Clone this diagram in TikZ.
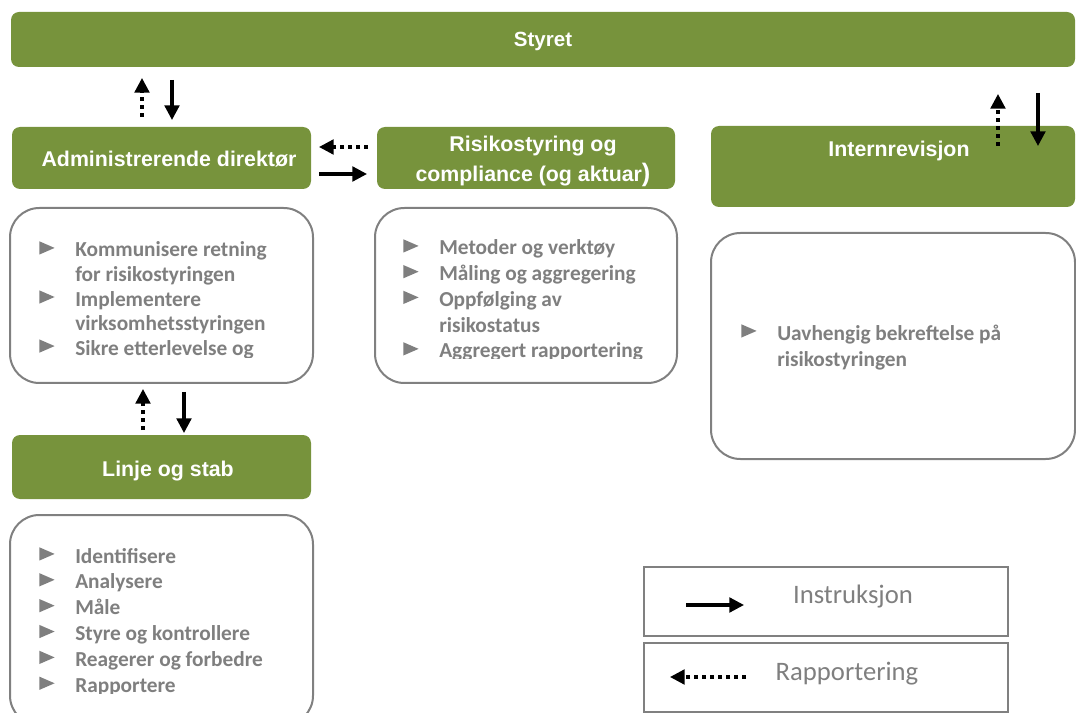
\documentclass[tikz,border=0pt]{standalone}
\usepackage{fontspec}
\setmainfont{Liberation Sans}
\newfontfamily\calfont{Carlito}
\usetikzlibrary{arrows.meta,fit}
\definecolor{olive}{RGB}{119,147,60}
\definecolor{txtgray}{RGB}{127,127,127}
\definecolor{boxgray}{RGB}{128,128,128}
\newcommand\bulsym{\smash{\tikz[x=1pt,y=1pt,baseline=0pt]\fill[txtgray] (0,1.8) -- (11.5,6.8) -- (0,11.8) -- cycle;}}
\newcommand\bulitem[1]{\hbox{\makebox[27pt][l]{\bulsym}#1}}
\newcommand\bulcont[1]{\hbox{\hspace*{27pt}#1}}
\begin{document}
\begin{tikzpicture}[x=0.75pt,y=-0.75pt,
  greenbox/.style={fill=olive, draw=none, rounded corners=6pt, inner sep=0pt},
  listbox/.style={draw=boxgray, line width=1.5pt, fill=white, rounded corners=22pt, inner sep=0pt},
  legbox/.style={draw=boxgray, line width=1.1pt, inner sep=0pt},
  head/.style={text=white, font=\fontsize{16}{18}\selectfont\bfseries, inner sep=0pt, anchor=base},
  listtext/.style={text=txtgray, font=\calfont\fontsize{16}{18.4}\selectfont\bfseries, inner sep=0pt, anchor=base west},
  legtext/.style={text=txtgray, font=\calfont\fontsize{20}{24}\selectfont, inner sep=0pt, anchor=base},
  instr/.style={-{Triangle[length=11pt,width=11pt]}, line width=2.4pt},
  rapp/.style={-{Triangle[length=11pt,width=11pt]}, line width=2.4pt, dash pattern=on 3pt off 3pt},
]
\useasboundingbox (0,0) rectangle (1076,713);
\clip (0,0) rectangle (1076,713);

% green boxes
\node[greenbox, fit={(11,12) (1075,67)}] (styret) {};
\node[greenbox, fit={(12,127) (311,189)}] (adm) {};
\node[greenbox, fit={(377,127) (675,189)}] (risk) {};
\node[greenbox, fit={(711,126) (1075,207)}] (intern) {};
\node[greenbox, fit={(12,435) (311,499)}] (linje) {};

\node[head, font=\fontsize{15.4}{18}\selectfont\bfseries] (styretT) at (543,47) {Styret};
\node[head] (admT) at (169,167) {Administrerende direktør};
\node[head] (riskT1) at (533,152) {Risikostyring og};
\node[head] (riskT2) at (533,182) {compliance (og aktuar{\fontsize{19}{19}\selectfont)}};
\node[head] (internT) at (899,157) {Internrevisjon};
\node[head] (linjeT) at (168,476) {Linje og stab};

% list boxes
\node[listbox, fit={(10,208) (313,383)}] (box1) {};
\node[listbox, fit={(375,208) (677,383)}] (box2) {};
\node[listbox, fit={(711,233) (1075,459)}] (box3) {};
\node[listbox, fit={(10,515) (313,725)}] (box4) {};

\begin{scope}
\clip (0,200) rectangle (1076,358);
\node[listtext] (box1T) at (39,257) {\vtop{\lineskiplimit=-30pt\baselineskip=18.4pt
  \bulitem{Kommunisere retning}\bulcont{for risikostyringen}\bulitem{Implementere}\bulcont{virksomhetsstyringen}\bulitem{Sikre etterlevelse og}}};
\end{scope}
\begin{scope}
\clip (0,200) rectangle (1076,359);
\node[listtext] (box2T) at (403,255) {\vtop{\lineskiplimit=-30pt\baselineskip=19.3pt
  \bulitem{Metoder og verktøy}\bulitem{Måling og aggregering}\bulitem{Oppfølging av}\bulcont{risikostatus}\bulitem{Aggregert rapportering}}};
\end{scope}
\node[listtext] (box3T) at (741,340) {\vtop{\lineskiplimit=-30pt\baselineskip=20pt
  \bulitem{Uavhengig bekreftelse på}\bulcont{risikostyringen}}};
\begin{scope}
\clip (0,500) rectangle (1076,693);
\node[listtext] (box4T) at (39,563) {\vtop{\lineskiplimit=-30pt\baselineskip=19.4pt
  \bulitem{Identifisere}\bulitem{Analysere}\bulitem{Måle}\bulitem{Styre og kontrollere}\bulitem{Reagerer og forbedre}\bulitem{Rapportere}}};
\end{scope}

% arrows
\coordinate (a1s) at (142,117); \coordinate (a1e) at (142,78);
\coordinate (a2s) at (172,80);  \coordinate (a2e) at (172,120);
\coordinate (a3s) at (368,147); \coordinate (a3e) at (319,147);
\coordinate (a4s) at (319,174); \coordinate (a4e) at (367,174);
\coordinate (a5s) at (998,146); \coordinate (a5e) at (998,94);
\coordinate (a6s) at (1038,93); \coordinate (a6e) at (1038,146);
\coordinate (a7s) at (143,430); \coordinate (a7e) at (143,389);
\coordinate (a8s) at (184,392); \coordinate (a8e) at (184,433);
\draw[rapp] (a1s) -- (a1e);
\draw[instr] (a2s) -- (a2e);
\draw[rapp] (a3s) -- (a3e);
\draw[instr] (a4s) -- (a4e);
\draw[rapp] (a5s) -- (a5e);
\draw[instr] (a6s) -- (a6e);
\draw[rapp] (a7s) -- (a7e);
\draw[instr] (a8s) -- (a8e);

% legend
\node[legbox, fit={(644,567) (1008,636)}] (leg1) {};
\node[legbox, fit={(644,643) (1008,712)}] (leg2) {};
\node[legtext] (leg1T) at (853,603) {Instruksjon};
\node[legtext] (leg2T) at (847,680) {Rapportering};
\coordinate (l1s) at (686,605); \coordinate (l1e) at (744,605);
\coordinate (l2s) at (746,677); \coordinate (l2e) at (670,677);
\draw[instr] (l1s) -- (l1e);
\draw[rapp] (l2s) -- (l2e);
\end{tikzpicture}
\end{document}
